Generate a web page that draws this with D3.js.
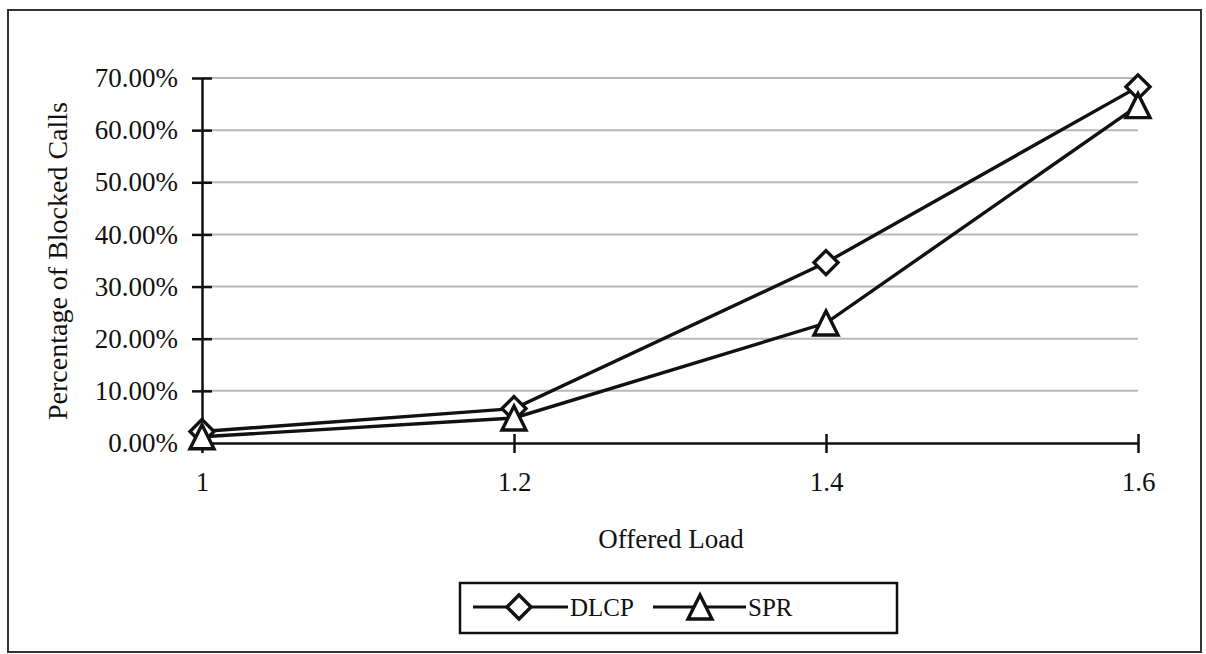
<!DOCTYPE html>
<html>
<head>
<meta charset="utf-8">
<script src="https://cdn.jsdelivr.net/npm/d3@7"></script>
<style>
  html, body { margin: 0; padding: 0; background: #fff; }
  svg { display: block; }
  text { font-family: "Liberation Serif", "Times New Roman", serif; fill: #111; }
</style>
</head>
<body>
<svg id="chart" width="1206" height="654"></svg>
<script>
// Offered load levels on the x axis
const loads = [1, 1.2, 1.4, 1.6];
// Blocked-call percentages per routing scheme (fractions)
const dlcp = [0.022, 0.066, 0.346, 0.683];
const spr  = [0.012, 0.048, 0.230, 0.647];
// Axis ticks
const yTicks = [0, 0.1, 0.2, 0.3, 0.4, 0.5, 0.6, 0.7];
const xTicks = [1, 1.2, 1.4, 1.6];
const xTickLabels = ["1", "1.2", "1.4", "1.6"];
const seriesNames = ["DLCP", "SPR"];

const svg = d3.select("#chart");

// outer frame
svg.append("rect")
  .attr("x", 8).attr("y", 10).attr("width", 1193).attr("height", 642)
  .attr("fill", "none").attr("stroke", "#333").attr("stroke-width", 2);

const x = d3.scaleLinear().domain([1, 1.6]).range([202, 1138]);
const y = d3.scaleLinear().domain([0, 0.7]).range([443, 78]);

// horizontal gridlines
svg.append("g").selectAll("line")
  .data(yTicks.filter(d => d > 0))
  .join("line")
  .attr("x1", x(1)).attr("x2", x(1.6))
  .attr("y1", d => y(d)).attr("y2", d => y(d))
  .attr("stroke", "#b8b8b8").attr("stroke-width", 2);

// y axis
const yAxis = d3.axisLeft(y).tickValues(yTicks).tickFormat(d3.format(".2%"))
  .tickSizeInner(10).tickSizeOuter(0).tickPadding(14);
const gy = svg.append("g").attr("transform", `translate(${x(1)},0)`).call(yAxis);
gy.select(".domain").attr("stroke", "#111").attr("stroke-width", 2.5);
gy.selectAll(".tick line").attr("x2", 10).attr("x1", -10).attr("stroke", "#111").attr("stroke-width", 2.5);
gy.selectAll(".tick text").attr("font-size", 27).attr("x", -24)
  .style("font-family", "'Liberation Serif', serif").attr("fill", "#111");

// x axis
const xAxis = d3.axisBottom(x).tickValues(xTicks)
  .tickFormat((d, i) => xTickLabels[i]).tickSizeOuter(0);
const gx = svg.append("g").attr("transform", `translate(0,${y(0)})`).call(xAxis);
gx.select(".domain").attr("stroke", "#111").attr("stroke-width", 2.5);
gx.selectAll(".tick line").attr("y1", -9).attr("y2", 10).attr("stroke", "#111").attr("stroke-width", 2.5);
gx.selectAll(".tick text").attr("font-size", 27).attr("y", 29)
  .style("font-family", "'Liberation Serif', serif").attr("fill", "#111");

// axis titles
svg.append("text")
  .attr("transform", "translate(67,261) rotate(-90)")
  .attr("text-anchor", "middle").attr("font-size", 28)
  .text("Percentage of Blocked Calls");
svg.append("text")
  .attr("x", 671).attr("y", 548)
  .attr("text-anchor", "middle").attr("font-size", 27)
  .text("Offered Load");

// marker shapes
const diamondPath = s => `M0,${-s}L${s},0L0,${s}L${-s},0Z`;
const trianglePath = s => `M0,${-s}L${s},${s}L${-s},${s}Z`;
const markers = [
  (g, s) => g.append("path").attr("d", diamondPath(s)),
  (g, s) => g.append("path").attr("d", trianglePath(s))
];

const line = d3.line().x((d, i) => x(loads[i])).y(d => y(d));
[dlcp, spr].forEach(vals => {
  svg.append("path").datum(vals)
    .attr("d", line).attr("fill", "none")
    .attr("stroke", "#111").attr("stroke-width", 3.4).attr("stroke-linejoin", "miter");
});
[dlcp, spr].forEach((vals, si) => {
  vals.forEach((v, i) => {
    const g = svg.append("g").attr("transform", `translate(${x(loads[i])},${y(v)})`);
    markers[si](g, 12).attr("fill", "#fff").attr("stroke", "#111").attr("stroke-width", 3.4);
  });
});

// legend
const lg = svg.append("g");
lg.append("rect").attr("x", 460).attr("y", 583).attr("width", 437).attr("height", 50)
  .attr("fill", "#fff").attr("stroke", "#111").attr("stroke-width", 2.5);
const legendItems = [
  { x0: 473, x1: 568, mx: 519, tx: 570 },
  { x0: 653, x1: 746, mx: 700, tx: 748 }
];
legendItems.forEach((it, si) => {
  lg.append("line").attr("x1", it.x0).attr("x2", it.x1).attr("y1", 607).attr("y2", 607)
    .attr("stroke", "#111").attr("stroke-width", 3);
  const g = lg.append("g").attr("transform", `translate(${it.mx},607)`);
  markers[si](g, 12).attr("fill", "#fff").attr("stroke", "#111").attr("stroke-width", 3.4);
  lg.append("text").attr("x", it.tx).attr("y", 616).attr("font-size", 25).text(seriesNames[si]);
});
</script>
</body>
</html>
